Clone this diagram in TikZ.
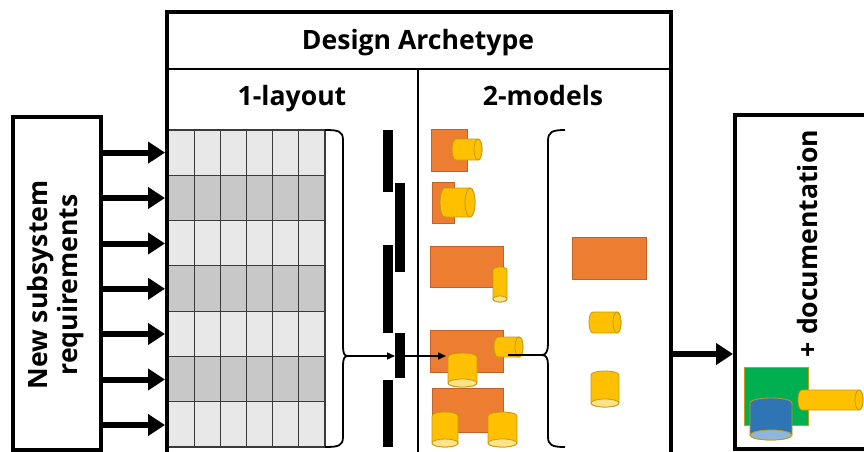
\documentclass[tikz,border=0pt]{standalone}
\usepackage{fontspec}
\setmainfont{Open Sans}
\usetikzlibrary{arrows.meta}
\definecolor{org}{HTML}{ED7D31}
\definecolor{orgd}{HTML}{C0622A}
\definecolor{yel}{HTML}{FFC000}
\definecolor{yeld}{HTML}{C49A10}
\definecolor{yell}{HTML}{FFE38A}
\definecolor{grn}{HTML}{00B050}
\definecolor{blu}{HTML}{2E75B6}
\definecolor{blul}{HTML}{8FB6DC}
\definecolor{gridl}{HTML}{E8E8E8}
\definecolor{gridd}{HTML}{C8C8C8}
\definecolor{gridline}{HTML}{3A3A3A}
\tikzset{
  boxline/.style={line width=4pt, draw=black},
  bigarrow/.style={line width=6pt,-{Triangle[length=17pt,width=21pt]}},
  thinarrow/.style={line width=1.5pt,-{Triangle[length=8pt,width=7pt]}},
  bracel/.style={line width=1.8pt, line join=round},
  barbox/.style={fill=black, inner sep=0pt, outer sep=0pt, minimum width=10pt},
  orect/.style={fill=org,draw=orgd,line width=0.8pt},
  ycyl/.style={fill=yel,draw=yeld,line width=0.8pt},
  ycylend/.style={fill=yell,draw=yeld,line width=0.8pt},
  bcyl/.style={fill=blu,draw=yeld,line width=0.8pt},
  bcylend/.style={fill=blul,draw=yeld,line width=0.8pt},
  lbl/.style={font=\fontsize{26.6}{30}\selectfont\bfseries, inner sep=0pt},
}
% vertical cylinder: style body, style end, x1,y1,x2,y2, ry
\newcommand{\vcylx}[7]{%
  \draw[#1] (#3,{#4+#7}) .. controls (#3,{#4-#7/3}) and (#5,{#4-#7/3}) .. (#5,{#4+#7})
     -- (#5,{#6-#7}) .. controls (#5,{#6+#7/3}) and (#3,{#6+#7/3}) .. (#3,{#6-#7}) -- cycle;
  \draw[#2] ({(#3+#5)/2},{#6-#7}) ellipse[x radius={(#5-#3)/2}, y radius=#7];
}
% horizontal cylinder: style, x1,y1,x2,y2, rx
\newcommand{\hcylx}[6]{%
  \draw[#1] ({#2+#6},#3) -- ({#4-#6},#3) .. controls ({#4+#6/3},#3) and ({#4+#6/3},#5) .. ({#4-#6},#5)
     -- ({#2+#6},#5) .. controls ({#2-#6/3},#5) and ({#2-#6/3},#3) .. cycle;
  \draw[#1] ({#4-#6},{(#3+#5)/2}) ellipse[x radius=#6, y radius={(#5-#3)/2}];
}
\begin{document}
\begin{tikzpicture}[x=1pt,y=-1pt]
\useasboundingbox (0,0) rectangle (864,452);
\clip (0,0) rectangle (864,452);
\fill[white] (0,0) rectangle (864,452);

% ---------- grid ----------
\foreach \r in {0,...,6}{
  \pgfmathsetmacro\ya{130+\r*45.29}
  \pgfmathsetmacro\yb{130+(\r+1)*45.29}
  \pgfmathparse{mod(\r,2)==0 ? "gridl" : "gridd"}
  \edef\rc{\pgfmathresult}
  \fill[\rc] (168,\ya) rectangle (325,\yb);
}
\foreach \c in {0,...,6}{
  \draw[gridline, line width=1.2pt] ({168+\c*26.17},130) -- ({168+\c*26.17},447);
}
\foreach \r in {0,...,7}{
  \draw[gridline, line width=1.2pt] (168,{130+\r*45.29}) -- (325,{130+\r*45.29});
}

% ---------- main box ----------
\draw[boxline, line join=miter] (167,470) -- (167,12) -- (671,12) -- (671,470);
\draw[line width=2pt] (167,69) -- (671,69);
\draw[line width=1.8pt] (418,69) -- (418,470);
\node[lbl, anchor=base] (title) at (418,49) {Design Archetype};
\node[lbl, anchor=base] (lay) at (292,105) {1-layout};
\node[lbl, anchor=base] (mod) at (543,105) {2-models};

% ---------- requirements box ----------
\node[boxline, minimum width=88pt, minimum height=333pt, inner sep=0pt] (req) at (57,283.5) {};
\node[lbl, rotate=90, align=center] (reqtxt) at (56,285) {New subsystem\\requirements};
\foreach \i/\y in {1/152.6,2/198,3/243.5,4/288.8,5/334,6/379.5,7/425}{
  \coordinate (r\i) at (165,\y);
  \draw[bigarrow] (req.east |- r\i) -- (r\i);
}

% ---------- brace after grid ----------
\draw[bracel] (325,130) .. controls (338,130) and (343,131) .. (343,140) -- (343,346)
  .. controls (343,353) and (344,356) .. (348,356)
  .. controls (344,356) and (343,359) .. (343,366) -- (343,437)
  .. controls (343,446) and (338,447) .. (325,447);
\coordinate (brtip) at (348,356);

% ---------- bars ----------
\node[barbox, minimum height=62pt] (b1) at (388,161) {};
\node[barbox, minimum height=88pt] (b2) at (388,289) {};
\node[barbox, minimum height=67pt] (b3) at (388,413.5) {};
\node[barbox, minimum height=89pt] (b4) at (400,227.5) {};
\node[barbox, minimum height=45pt] (b5) at (400,355.5) {};

\draw[thinarrow] (brtip) -- (b5.west |- brtip);

% ---------- models ----------
% M1
\draw[orect] (431,129) rectangle (467,171);
\hcylx{ycyl}{452}{139}{482}{160}{4}
% M2
\draw[orect] (432,182) rectangle (454,223);
\hcylx{ycyl}{440}{188}{475}{217}{5}
% M3
\draw[orect] (430,246) rectangle (503,287);
\vcylx{ycyl}{ycylend}{493}{267}{507}{302}{3}
% M4
\draw[orect] (430,330) rectangle (503,372);
\hcylx{ycyl}{494}{337}{523}{357}{4}
\vcylx{ycyl}{ycylend}{448}{353}{477}{387}{4}
\coordinate (m4in) at (446,356);
\draw[thinarrow] (b5.east |- m4in) -- (m4in);
% M5
\draw[orect] (432,388) rectangle (503,432);
\vcylx{ycyl}{ycylend}{432}{412}{458}{447}{4}
\vcylx{ycyl}{ycylend}{488}{412}{517}{447}{4}

% brace before parts
\draw[bracel] (565,130) .. controls (552,130) and (548,132) .. (548,141) -- (548,344)
  .. controls (548,351) and (546,355) .. (542,355)
  .. controls (546,355) and (548,358) .. (548,365) -- (548,437)
  .. controls (548,445) and (552,447) .. (565,447);
\coordinate (br2tip) at (542,355);
\coordinate (m4out) at (508,355);
\draw[line width=1.8pt] (m4out) -- (br2tip);

% parts
\draw[orect] (572,237) rectangle (646,279);
\hcylx{ycyl}{589}{312}{621}{333}{4}
\vcylx{ycyl}{ycylend}{591}{371}{619}{407}{4}

% ---------- documentation box ----------
\draw[boxline] (735,115) rectangle (885,449);
\coordinate (archE) at (673,354);
\coordinate (docW) at (733,354);
\draw[bigarrow] (archE) -- (docW);
\node[lbl, rotate=90, anchor=base] (doctxt) at (817,243.5) {+ documentation};
\draw[fill=grn, draw=yeld, line width=0.8pt] (744,367) rectangle (808,425);
\hcylx{ycyl}{798}{390}{863}{410}{4}
\vcylx{bcyl}{bcylend}{750}{398}{792}{440}{5}
\end{tikzpicture}
\end{document}
